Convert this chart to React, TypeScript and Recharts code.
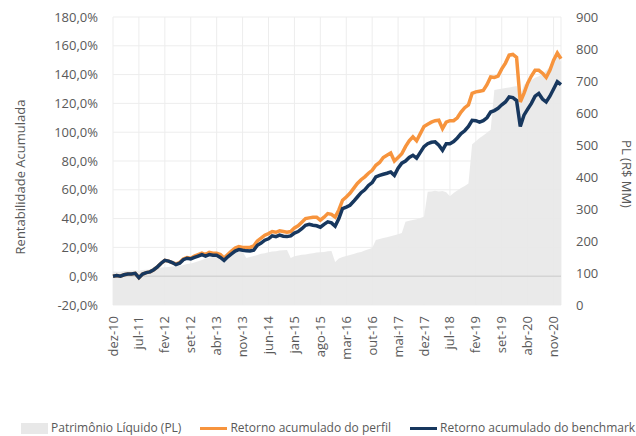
import {
  ComposedChart,
  Area,
  Line,
  XAxis,
  YAxis,
  CartesianGrid,
  Legend,
  ReferenceLine,
  Label,
} from 'recharts'

// Meses de dez-10 (índice 0) até jan-21 (índice 121)
const xTickLabels = [
  'dez-10', 'jul-11', 'fev-12', 'set-12', 'abr-13', 'nov-13', 'jun-14', 'jan-15', 'ago-15',
  'mar-16', 'out-16', 'mai-17', 'dez-17', 'jul-18', 'fev-19', 'set-19', 'abr-20', 'nov-20',
]
const xTickIdx = [0, 7, 14, 21, 28, 35, 42, 49, 56, 63, 70, 77, 84, 91, 98, 105, 112, 119]
const leftTicks = [-20, 0, 20, 40, 60, 80, 100, 120, 140, 160, 180]
const rightTicks = [0, 100, 200, 300, 400, 500, 600, 700, 800, 900]

// Retorno acumulado do perfil (%)
const perfil = [
  0, 0.5, 0, 1, 1.5, 1.5, 2, -1, 1.5, 2.5,
  3, 4.5, 6.5, 9, 11, 10.5, 9.5, 8.5, 9.5, 12,
  13, 12.5, 14, 15, 16, 15, 16.5, 16, 16, 15,
  12.5, 15, 17.5, 19.5, 20.5, 20, 20, 20, 21, 24.5,
  26.5, 28.5, 29.6, 31, 30.5, 31.5, 31, 30.5, 31, 33.5,
  35, 37.5, 40, 40.5, 41, 41, 38.9, 41, 43.5, 43,
  41, 46, 52.8, 55, 57.6, 61, 64.4, 67, 69, 71.5,
  73.5, 77, 79, 82.4, 84, 85.5, 80, 82.5, 85, 90,
  94, 96.8, 94, 99, 104, 105.5, 107, 108, 108.3, 102.5,
  107, 108, 108, 110, 114, 117, 119, 127, 128, 128.5,
  129, 133, 138.4, 138, 139, 144, 148, 153.5, 154, 152,
  121, 127, 134, 139, 143, 143, 141, 138, 143, 150,
  155, 151,
]

// Retorno acumulado do benchmark (%)
const benchmark = [
  0, 0.5, 0, 1, 1.5, 1.5, 2, -1, 1.5, 2.5,
  3, 4.5, 6.5, 9, 11, 10.5, 9.5, 8, 9, 11.5,
  12.5, 12, 13, 14, 15, 14, 15, 14.5, 14.6, 13,
  11, 13.5, 15.5, 17.5, 18.5, 18, 17.6, 17.5, 18, 21.5,
  23, 25, 26, 28, 27.5, 28.5, 27.8, 27.5, 28, 30,
  31, 33, 35.4, 36, 35.4, 35, 34, 36, 37.7, 37,
  34.7, 40, 47, 48, 49.3, 52, 55, 58, 60, 63,
  65, 69, 70, 70.8, 71.5, 72.4, 70, 75, 78.5, 80,
  82.5, 84, 82, 86, 90, 92, 93, 93.3, 91, 87.5,
  92, 92, 93.5, 96, 99, 101, 104, 108.3, 108, 107,
  108, 110, 114, 115, 116.6, 119, 121, 124.5, 124, 122,
  104, 111.8, 116, 120, 125, 126.9, 123, 121, 125, 130,
  135, 133,
]

// Patrimônio Líquido (R$ MM)
const patrimonio = [
  105, 104, 104, 106, 107, 108, 108, 107, 109, 110,
  111, 113, 115, 117, 118, 119, 120, 121, 123, 125,
  128, 130, 133, 137, 141, 145, 148, 151, 154, 156,
  158, 160, 162, 164, 166, 167, 147, 150, 153, 156,
  160, 162, 165, 167, 168, 170, 171, 172, 147, 152,
  155, 157, 158, 160, 162, 164, 165, 166, 168, 169,
  134, 145, 150, 153, 156, 159, 163, 166, 170, 174,
  178, 203, 206, 209, 212, 215, 218, 221, 225, 260,
  263, 266, 268, 272, 276, 354, 355, 357, 355, 356,
  352, 340, 350, 358, 366, 372, 380, 502, 512, 522,
  530, 538, 548, 672, 674, 676, 678, 680, 682, 684,
  655, 688, 695, 702, 710, 715, 722, 732, 745, 760,
  780, 760,
]

const seriesNames = [
  'Patrimônio Líquido (PL)',
  'Retorno acumulado do perfil',
  'Retorno acumulado do benchmark',
]

const data = perfil.map((p, i) => ({
  i,
  perfil: p,
  benchmark: benchmark[i],
  pl: patrimonio[i],
}))

const FONT = "'Open Sans', sans-serif"
const TEXT = '#595959'
const ORANGE = '#F7943D'
const NAVY = '#17375E'
const GREY = '#E8E8E8'

const pct = (v: number) => `${v.toFixed(1).replace('.', ',')}%`

function MonthTick({ x, y, payload }: any) {
  const k = xTickIdx.indexOf(payload.value)
  return (
    <text
      x={x}
      y={y}
      dy="0.35em"
      textAnchor="end"
      transform={`rotate(-90 ${x} ${y})`}
      fill={TEXT}
      fontSize={13}
      fontFamily={FONT}
    >
      {xTickLabels[k]}
    </text>
  )
}

function LegendContent({ payload }: any) {
  const items = [...(payload || [])].sort(
    (a: any, b: any) => seriesNames.indexOf(a.value) - seriesNames.indexOf(b.value),
  )
  return (
    <div
      style={{
        display: 'flex',
        alignItems: 'center',
        fontFamily: FONT,
        fontSize: 12,
        color: TEXT,
        lineHeight: '16px',
        whiteSpace: 'nowrap',
      }}
    >
      {items.map((entry: any) => (
        <div key={entry.value} style={{ display: 'flex', alignItems: 'center', marginRight: 19 }}>
          {entry.type === 'rect' ? (
            <span style={{ width: 27, height: 11, background: GREY, marginRight: 3 }} />
          ) : (
            <span style={{ width: 27, height: 3, background: entry.color, marginRight: 3 }} />
          )}
          <span>{entry.value}</span>
        </div>
      ))}
    </div>
  )
}

export default function App() {
  return (
    <div style={{ position: 'absolute', left: 0, top: 0, width: 636, height: 436, background: '#fff' }}>
      <ComposedChart width={636} height={436} data={data} margin={{ top: 17, right: 0, bottom: 0, left: 0 }}>
        <CartesianGrid yAxisId="left" stroke="#ededed" strokeWidth={1} />
        <XAxis
          type="number"
          dataKey="i"
          domain={[0, 121]}
          ticks={xTickIdx}
          interval={0}
          height={115}
          axisLine={false}
          tickLine={false}
          tickSize={0}
          tickMargin={11}
          tick={<MonthTick />}
        />
        <YAxis
          yAxisId="left"
          domain={[-20, 180]}
          ticks={leftTicks}
          width={113}
          axisLine={false}
          tickLine={false}
          tickSize={0}
          tickMargin={15}
          tickFormatter={pct}
          tick={{ fill: TEXT, fontSize: 13, fontFamily: FONT }}
        >
          <Label
            content={() => (
              <text
                x={25}
                y={177}
                transform="rotate(-90 25 177)"
                textAnchor="middle"
                fill={TEXT}
                fontSize={13}
                fontFamily={FONT}
              >
                Rentabilidade Acumulada
              </text>
            )}
          />
        </YAxis>
        <YAxis
          yAxisId="right"
          orientation="right"
          domain={[0, 900]}
          ticks={rightTicks}
          width={75}
          axisLine={false}
          tickLine={false}
          tickSize={0}
          tickMargin={15}
          tick={{ fill: TEXT, fontSize: 13, fontFamily: FONT }}
        >
          <Label
            content={() => (
              <text
                x={622}
                y={174}
                transform="rotate(90 622 174)"
                textAnchor="middle"
                fill={TEXT}
                fontSize={13}
                fontFamily={FONT}
              >
                PL (R$ MM)
              </text>
            )}
          />
        </YAxis>
        <Area
          yAxisId="right"
          type="linear"
          dataKey="pl"
          name={seriesNames[0]}
          fill={GREY}
          fillOpacity={0.92}
          stroke="none"
          legendType="rect"
          isAnimationActive={false}
        />
        <ReferenceLine yAxisId="left" y={0} stroke="#d4d4d4" strokeWidth={1.5} />
        <Line
          yAxisId="left"
          type="linear"
          dataKey="perfil"
          name={seriesNames[1]}
          stroke={ORANGE}
          strokeWidth={3.5}
          dot={false}
          legendType="line"
          isAnimationActive={false}
        />
        <Line
          yAxisId="left"
          type="linear"
          dataKey="benchmark"
          name={seriesNames[2]}
          stroke={NAVY}
          strokeWidth={3.5}
          dot={false}
          legendType="line"
          isAnimationActive={false}
        />
        <Legend
          verticalAlign="bottom"
          align="left"
          height={16}
          wrapperStyle={{ left: 21, width: 612, height: 16 }}
          content={<LegendContent />}
        />
      </ComposedChart>
    </div>
  )
}
